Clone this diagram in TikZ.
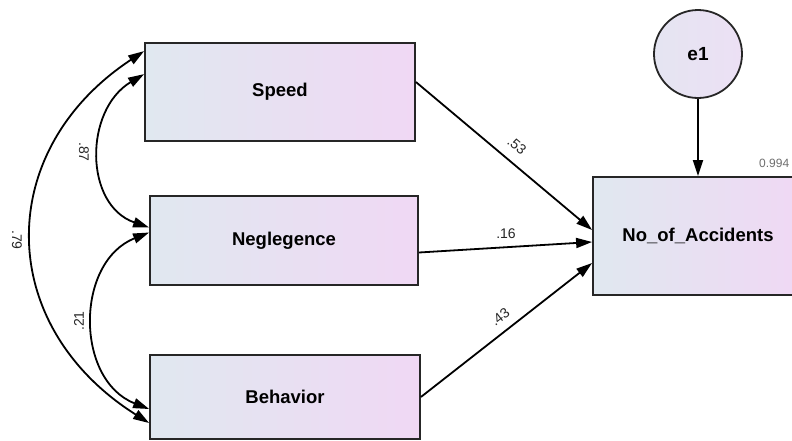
\documentclass[tikz,border=0pt]{standalone}
\usepackage{fontspec}
\setmainfont{Liberation Sans}
\usetikzlibrary{arrows.meta}
\definecolor{boxleft}{RGB}{224,232,240}
\definecolor{boxright}{RGB}{240,216,244}
\definecolor{circfill}{RGB}{236,224,244}
\definecolor{lblgrey}{RGB}{110,110,110}
\begin{document}
\begin{tikzpicture}[x=1pt,y=-1pt,
  varbox/.style={draw=black!85, line width=1.8pt, shade, left color=boxleft, right color=boxright,
    inner sep=0pt, font=\fontsize{18.5}{22}\selectfont\bfseries},
  errcirc/.style={draw=black!85, line width=1.8pt, circle, shade, left color=boxleft!60!circfill, right color=circfill,
    inner sep=0pt, minimum size=88pt, font=\fontsize{19}{22}\selectfont\bfseries},
  path/.style={line width=1.8pt, -{Triangle[length=16pt,width=10pt]}},
  cov/.style={line width=1.8pt, {Triangle[length=16pt,width=10pt]}-{Triangle[length=16pt,width=10pt]}},
  coef/.style={font=\fontsize{14}{16}\selectfont, text=black!85, inner sep=0pt}
]
\clip (0,0) rectangle (792,440);
\fill[white] (0,0) rectangle (792,440);

\node[varbox, minimum width=270pt, minimum height=98pt] (speed) at (280,92) {Speed};
\node[varbox, minimum width=268pt, minimum height=89pt] (neg) at (284,240.5) {Neglegence};
\node[varbox, minimum width=270pt, minimum height=84pt] (beh) at (285,397) {Behavior};
\node[varbox, minimum width=210pt, minimum height=118pt] (acc) at (698,236) {No\_of\_Accidents};
\node[errcirc] (e1) at (698,54) {e1};
\node[font=\fontsize{12}{14}\selectfont, text=lblgrey, anchor=west, inner sep=0pt] (r2) at (759,163) {0.994};

% error arrow
\draw[path] (e1.south) -- (acc.north);

% regression paths
\coordinate (s1) at ([yshift=10pt]speed.east);
\coordinate (n1) at ([yshift=-12pt]neg.east);
\coordinate (b1) at (beh.east);
\coordinate (a1) at ([yshift=6pt]acc.west);
\coordinate (a2) at ([yshift=-6pt]acc.west);
\coordinate (a3) at ([yshift=-27pt]acc.west);
\draw[path] (s1) -- (a1);
\draw[path] (n1) -- (a2);
\draw[path] (b1) -- (a3);
\node[coef, rotate=-40] (c53) at (517,146) {.53};
\node[coef] (c16) at (506,234) {.16};
\node[coef, rotate=38] (c43) at (500,317) {.43};

% covariances
\coordinate (sp1) at ([yshift=-9pt]speed.north west);
\coordinate (sp2) at ([yshift=-32pt]speed.north west);
\coordinate (ng1) at ([yshift=13pt]neg.west);
\coordinate (ng2) at ([yshift=8pt]neg.west);
\coordinate (bh1) at ([yshift=-12pt]beh.west);
\coordinate (bh2) at ([yshift=-26pt]beh.west);

\draw[cov] (sp1) .. controls (-6,150) and (-6,325) .. (bh2);
\draw[cov] (sp2) .. controls (84,110) and (84,205) .. (ng1);
\draw[cov] (ng2) .. controls (75,262) and (75,380) .. (bh1);

\node[coef, rotate=-90] (c79) at (17,240) {.79};
\node[coef, rotate=-90] (c87) at (84,152) {.87};
\node[coef, rotate=90] (c21) at (79,321) {.21};
\end{tikzpicture}
\end{document}
